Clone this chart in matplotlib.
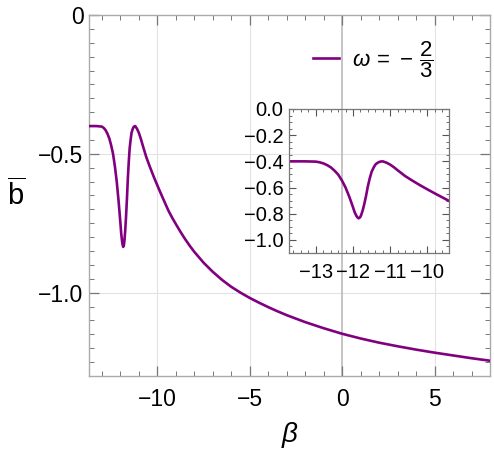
import matplotlib
matplotlib.use("Agg")
import matplotlib.pyplot as plt
from matplotlib.ticker import MultipleLocator

plt.rcParams["font.family"] = ["Liberation Sans", "DejaVu Sans"]
plt.rcParams["mathtext.fontset"] = "custom"
plt.rcParams["mathtext.rm"] = "Liberation Sans"
plt.rcParams["mathtext.it"] = "Liberation Sans:italic"

# values
beta = [-13.7, -13.3, -13.0, -12.9, -12.8, -12.7, -12.6, -12.5, -12.4, -12.3,
        -12.2, -12.1, -12.05, -12.0, -11.96, -11.92, -11.89, -11.85, -11.81, -11.78,
        -11.74, -11.7, -11.65, -11.6, -11.55, -11.5, -11.45, -11.4, -11.35, -11.3,
        -11.25, -11.2, -11.1, -11.0, -10.9, -10.8, -10.7, -10.6, -10.4, -10.2,
        -10.0, -9.8, -9.6, -9.4, -9.2, -9.0, -8.75, -8.5, -8.25, -8.0,
        -7.5, -7.0, -6.5, -6.0, -5.5, -5.0, -4.5, -4.0, -3.5, -3.0,
        -2.0, -1.0, 0.0, 1.0, 2.0, 3.0, 4.0, 5.0, 6.0, 7.0, 8.0]
bbar = [-0.400, -0.400, -0.402, -0.407, -0.415, -0.428, -0.445, -0.470, -0.500, -0.545,
        -0.600, -0.670, -0.710, -0.750, -0.785, -0.810, -0.825, -0.835, -0.828, -0.810,
        -0.775, -0.730, -0.665, -0.590, -0.530, -0.480, -0.450, -0.425, -0.413, -0.405,
        -0.401, -0.400, -0.410, -0.425, -0.445, -0.468, -0.490, -0.512, -0.548, -0.582,
        -0.614, -0.645, -0.675, -0.705, -0.730, -0.753, -0.781, -0.807, -0.831, -0.853,
        -0.892, -0.925, -0.954, -0.979, -1.000, -1.019, -1.036, -1.052, -1.067, -1.081,
        -1.106, -1.128, -1.148, -1.165, -1.180, -1.193, -1.205, -1.216, -1.226, -1.236, -1.245]

main_xticks = [-10, -5, 0, 5]
main_xlabels = ["\u221210", "\u22125", "0", "5"]
main_yticks = [0, -0.5, -1.0]
main_ylabels = ["0", "\u22120.5", "\u22121.0"]
inset_xticks = [-13, -12, -11, -10]
inset_xlabels = ["\u221213", "\u221212", "\u221211", "\u221210"]
inset_yticks = [0.0, -0.2, -0.4, -0.6, -0.8, -1.0]
inset_ylabels = ["0.0", "\u22120.2", "\u22120.4", "\u22120.6", "\u22120.8", "\u22121.0"]

purple = "#800080"

fig = plt.figure(figsize=(4.94, 4.53), dpi=100)
ax = fig.add_axes([0.1802, 0.1700, 0.8117, 0.7969])

ax.plot(beta, bbar, color=purple, lw=1.9, label=r"$\omega\,=\,-\,\dfrac{2}{3}$", zorder=3,
        solid_joinstyle="round")
ax.set_xlim(-13.7, 8)
ax.set_ylim(-1.3, 0)

for x in [-10, -5, 5]:
    ax.axvline(x, color="#e3e3e3", lw=0.8, zorder=0)
ax.axhline(-0.5, color="#e3e3e3", lw=0.8, zorder=0)
ax.axhline(-1.0, color="#e3e3e3", lw=0.8, zorder=0)
ax.axvline(0, color="#b5b5b5", lw=1.1, zorder=1)

ax.set_xticks(main_xticks)
ax.set_xticklabels(main_xlabels)
ax.set_yticks(main_yticks)
ax.set_yticklabels(main_ylabels)
ax.xaxis.set_minor_locator(MultipleLocator(1))
ax.yaxis.set_minor_locator(MultipleLocator(0.05))
ax.tick_params(which="both", direction="in", top=True, right=True, color="#777777")
ax.tick_params(which="major", length=7, width=0.9, labelsize=16.5)
ax.tick_params(which="minor", length=3.5, width=0.7)
ax.tick_params(axis="x", which="major", pad=9)
ax.tick_params(axis="y", which="major", pad=4)
for s in ax.spines.values():
    s.set_color("#aaaaaa")
    s.set_linewidth(1.0)

ax.set_xlabel(r"$\beta$", fontsize=20, labelpad=6)
ax.set_ylabel(r"$\overline{\mathrm{b}}$", fontsize=21, rotation=0, labelpad=16, va="center")

ax.legend(loc="upper right", bbox_to_anchor=(0.91, 0.99), frameon=False,
          fontsize=16, handlelength=1.15, handletextpad=0.6)

# inset, transparent background
ins = fig.add_axes([0.585, 0.4415, 0.3239, 0.3179])
ins.patch.set_alpha(0)
ins.plot(beta, bbar, color=purple, lw=1.9, solid_joinstyle="round")
ins.set_xlim(-13.72, -9.42)
ins.set_ylim(-1.1, 0)
ins.set_xticks(inset_xticks)
ins.set_xticklabels(inset_xlabels)
ins.set_yticks(inset_yticks)
ins.set_yticklabels(inset_ylabels)
ins.xaxis.set_minor_locator(MultipleLocator(0.2))
ins.yaxis.set_minor_locator(MultipleLocator(0.05))
ins.tick_params(which="both", direction="in", top=True, right=True, color="#555555")
ins.tick_params(which="major", length=5, width=0.8, labelsize=14.5)
ins.tick_params(which="minor", length=2.5, width=0.6)
ins.tick_params(axis="x", which="major", pad=7)
ins.tick_params(axis="y", which="major", pad=4)
for s in ins.spines.values():
    s.set_color("#777777")
    s.set_linewidth(0.9)

fig.savefig("out.png", dpi=100)
